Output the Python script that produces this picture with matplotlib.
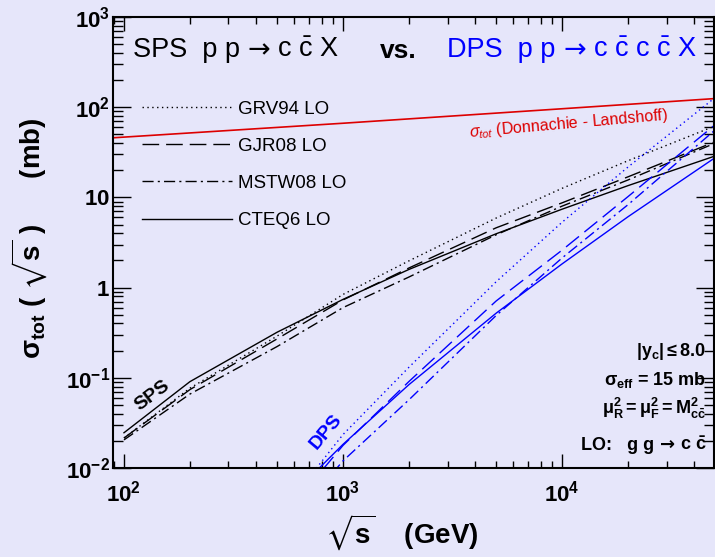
import matplotlib
matplotlib.use('Agg')
import matplotlib.pyplot as plt
from matplotlib.ticker import LogLocator, NullFormatter
from matplotlib.offsetbox import TextArea, HPacker, AnnotationBbox

plt.rcParams['font.family'] = ['Liberation Sans', 'DejaVu Sans']
plt.rcParams['mathtext.fontset'] = 'custom'
plt.rcParams['mathtext.rm'] = 'Liberation Sans'
plt.rcParams['mathtext.it'] = 'Liberation Sans:italic'
plt.rcParams['mathtext.bf'] = 'Liberation Sans:bold'
plt.rcParams['mathtext.sf'] = 'Liberation Sans'
plt.rcParams['mathtext.fallback'] = 'stixsans'

# ---------------- data ----------------
sqrt_s = [100, 200, 500, 1000, 2000, 5000, 10000, 20000, 50000]
sps_grv94 = [0.0215, 0.0767, 0.29, 0.84, 1.98, 5.9, 12.6, 25.5, 62]
sps_gjr08 = [0.0215, 0.074, 0.27, 0.73, 1.65, 4.6, 8.7, 16.9, 41.5]
sps_mstw08 = [0.0205, 0.066, 0.222, 0.60, 1.31, 3.85, 8.0, 15.6, 40]
sps_cteq6 = [0.0246, 0.0906, 0.32, 0.74, 1.59, 3.95, 7.4, 13.5, 28.8]

dps_sqrt_s = [500, 1000, 2000, 5000, 10000, 20000, 50000]
dps_grv94 = [0.0028, 0.0235, 0.131, 1.16, 5.3, 21.7, 128]
dps_gjr08 = [0.0024, 0.0178, 0.091, 0.71, 2.6, 10.2, 64]
dps_mstw08 = [0.00164, 0.012, 0.057, 0.49, 2.13, 8.3, 56]
dps_cteq6 = [0.0034, 0.0183, 0.084, 0.52, 1.83, 6.1, 27.6]

dl_sqrt_s = [89, 100, 1000, 10000, 50000]
dl_sigma = [45.8, 46.6, 66.4, 96.1, 124.7]

pdf_labels = ['GRV94 LO', 'GJR08 LO', 'MSTW08 LO', 'CTEQ6 LO']

x_ticks = [1e2, 1e3, 1e4]
x_tick_labels = [r'$\mathbf{10^{2}}$', r'$\mathbf{10^{3}}$', r'$\mathbf{10^{4}}$']
y_ticks = [1e-2, 1e-1, 1, 10, 1e2, 1e3]
y_tick_labels = [r'$\mathbf{10^{-2}}$', r'$\mathbf{10^{-1}}$', r'$\mathbf{1}$',
                 r'$\mathbf{10}$', r'$\mathbf{10^{2}}$', r'$\mathbf{10^{3}}$']

# ---------------- styling ----------------
bg = '#e6e6fa'
blue = '#0000ff'
red = '#dd0000'
styles = [(0, (1, 2.5)), (0, (12, 5)), (0, (8, 3, 1.5, 3)), '-']

fig = plt.figure(figsize=(7.15, 5.57), dpi=100, facecolor=bg)
ax = fig.add_axes([113/715, 1-468/557, 601/715, 451/557])
ax.set_facecolor(bg)
ax.set_xscale('log')
ax.set_yscale('log')
ax.set_xlim(89.1, 49400)
ax.set_ylim(1e-2, 1e3)

sps_sets = [sps_grv94, sps_gjr08, sps_mstw08, sps_cteq6]
dps_sets = [dps_grv94, dps_gjr08, dps_mstw08, dps_cteq6]
handles = []
for ys, ls in zip(sps_sets, styles):
    h, = ax.plot(sqrt_s, ys, color='black', lw=1.0, linestyle=ls)
    handles.append(h)
for ys, ls in zip(dps_sets, styles):
    ax.plot(dps_sqrt_s, ys, color=blue, lw=1.0, linestyle=ls)
ax.plot(dl_sqrt_s, dl_sigma, color=red, lw=1.2)

ax.legend(handles=handles, labels=pdf_labels, loc='upper left',
          bbox_to_anchor=(0.048, 0.815), frameon=False, fontsize=13.5,
          handlelength=4.8, handletextpad=0.35, labelspacing=1.07,
          borderpad=0, borderaxespad=0)

# ticks
ax.set_xticks(x_ticks, labels=x_tick_labels)
ax.set_yticks(y_ticks, labels=y_tick_labels)
ax.xaxis.set_minor_locator(LogLocator(base=10, subs=range(2, 10), numticks=20))
ax.yaxis.set_minor_locator(LogLocator(base=10, subs=range(2, 10), numticks=20))
ax.xaxis.set_minor_formatter(NullFormatter())
ax.yaxis.set_minor_formatter(NullFormatter())
ax.tick_params(which='both', direction='in', top=True, right=True, width=1.0)
ax.tick_params(axis='x', which='major', length=10, labelsize=16, pad=9)
ax.tick_params(axis='x', which='minor', length=5)
ax.tick_params(axis='y', which='major', length=13, labelsize=16, pad=2)
ax.tick_params(axis='y', which='minor', length=7)
for s in ax.spines.values():
    s.set_linewidth(1.5)

# axis labels
ax.set_ylabel(r'$\mathbf{\sigma_{tot}}$ $\mathbf{(\ \sqrt{s}\ )}$      $\mathbf{(mb)}$', fontsize=20)
ax.yaxis.set_label_coords(-0.105, 0.51)
ax.set_xlabel(r'$\mathbf{\sqrt{s}}$    $\mathbf{(GeV)}$', fontsize=20)
ax.xaxis.set_label_coords(0.48, -0.10)


def rich_text(pieces, xy, align, fontsize, color, weight='normal'):
    kids = [TextArea(t, textprops=dict(fontsize=fontsize, color=color,
                                       fontweight=weight, family=fam))
            for t, fam in pieces]
    box = HPacker(children=kids, pad=0, sep=0, align='baseline')
    ab = AnnotationBbox(box, xy, xycoords='axes fraction', box_alignment=align,
                        frameon=False, pad=0, annotation_clip=False)
    ax.add_artist(ab)


LIB = ['Liberation Sans', 'DejaVu Sans']
DJV = ['DejaVu Sans']

# titles
rich_text([('SPS  p p ', LIB), ('→', DJV), (r' c $\mathrm{\bar{c}}$ X', LIB)],
          (0.033, 0.926), (0, 0.5), 19.5, 'black')
ax.text(0.444, 0.909, 'vs.', transform=ax.transAxes, fontsize=19,
        va='baseline', fontweight='bold', color='black')
rich_text([('DPS  p p ', LIB), ('→', DJV),
           (r' c $\mathrm{\bar{c}}$ c $\mathrm{\bar{c}}$ X', LIB)],
          (0.556, 0.926), (0, 0.5), 19.5, blue)

# curve annotations
ax.text(10760, 65.2, r'$\sigma_{tot}$ (Donnachie - Landshoff)', color=red,
        fontsize=11.5, rotation=5, ha='center', va='center')
ax.text(134, 0.0628, 'SPS', fontsize=14, fontweight='bold', rotation=37,
        ha='center', va='center', color='black')
ax.text(836, 0.0251, 'DPS', fontsize=14, fontweight='bold', rotation=50,
        ha='center', va='center', color=blue)

# info block
info = [r'$\mathbf{|y_{c}| \leq 8.0}$',
        r'$\mathbf{\sigma_{eff}}$ = 15 mb',
        r'$\mathbf{\mu_{R}^{2} = \mu_{F}^{2} = M_{c\bar{c}}^{2}}$']
info_y = [0.258, 0.195, 0.133]
for t, yy in zip(info, info_y):
    ax.text(0.987, yy, t, transform=ax.transAxes, fontsize=13, ha='right',
            va='center', fontweight='bold')
rich_text([('LO:   g g ', LIB), ('→', DJV), (r' c $\mathbf{\bar{c}}$', LIB)],
          (0.987, 0.051), (1, 0.5), 13, 'black', weight='bold')

fig.savefig('out.png', dpi=100, facecolor=bg)
